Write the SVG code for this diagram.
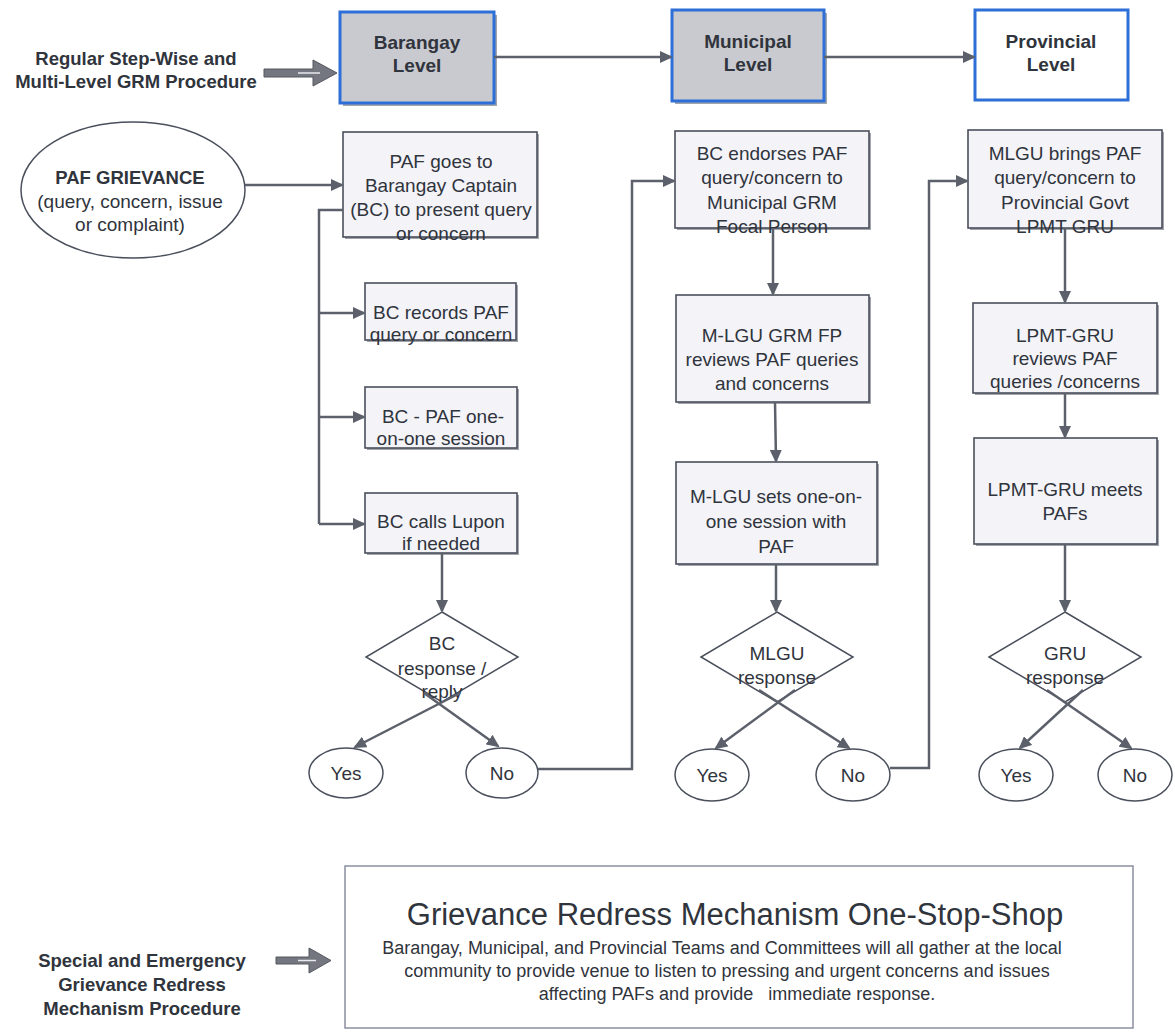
<svg xmlns="http://www.w3.org/2000/svg" width="1175" height="1032" viewBox="0 0 1175 1032">
<style>
.t{font-family:"Liberation Sans",Arial,sans-serif;font-size:19px;fill:#30343c;text-anchor:middle}
.b{font-weight:bold}
.sm{font-size:18.5px}
.box{fill:#f3f3f8;stroke:#4a4f5c;stroke-width:1.6}
.sh{fill:#a3a5ad}
.lvl{fill:#c9c9d0;stroke:#2d6fd6;stroke-width:3}
.lvlw{fill:#ffffff;stroke:#2d6fd6;stroke-width:3}
.el{fill:#ffffff;stroke:#4a4f5c;stroke-width:1.5}
.conn{stroke:#5c606b;stroke-width:2.5;fill:none}
.blk{fill:#74777f;stroke:#55585f;stroke-width:1}
</style>
<defs>
<marker id="ah" markerWidth="13" markerHeight="12" refX="11" refY="6" orient="auto" markerUnits="userSpaceOnUse">
<path d="M0,0 L13,6 L0,12 z" fill="#5c606b"/>
</marker>
</defs>
<rect width="1175" height="1032" fill="#ffffff"/>

<g id="label-regular">
<text class="t b sm" x="136" y="65">Regular Step-Wise and</text>
<text class="t b sm" x="136" y="88">Multi-Level GRM Procedure</text>
<polygon class="blk" points="264,69 313,69 313,60 337,73 313,86 313,77 264,77"/>
<line x1="298" y1="73" x2="320" y2="73" stroke="#e8e8ee" stroke-width="1.5"/>
</g>

<g id="barangay-level">
<rect class="sh" x="343" y="15" width="154" height="91"/>
<rect class="lvl" x="340" y="12" width="154" height="91"/>
<text class="t b" x="417" y="49">Barangay</text>
<text class="t b" x="417" y="72">Level</text>
</g>
<g id="municipal-level">
<rect class="sh" x="675" y="13" width="152" height="91"/>
<rect class="lvl" x="672" y="10" width="152" height="91"/>
<text class="t b" x="748" y="48">Municipal</text>
<text class="t b" x="748" y="71">Level</text>
</g>
<g id="provincial-level">
<rect class="lvlw" x="975" y="10" width="153" height="90"/>
<text class="t b" x="1051" y="48">Provincial</text>
<text class="t b" x="1051" y="71">Level</text>
</g>

<g id="paf-grievance">
<ellipse class="el" cx="133" cy="190" rx="112" ry="68"/>
<text class="t b sm" x="130" y="184">PAF GRIEVANCE</text>
<text class="t" x="130" y="208">(query, concern, issue</text>
<text class="t" x="130" y="231">or complaint)</text>
</g>

<g id="paf-goes">
<rect class="sh" x="345" y="134" width="194" height="105"/>
<rect class="box" x="343" y="132" width="194" height="105"/>
<text class="t" x="441" y="168">PAF goes to</text>
<text class="t" x="441" y="192">Barangay Captain</text>
<text class="t" x="441" y="216">(BC) to present query</text>
<text class="t" x="441" y="240">or concern</text>
</g>
<g id="bc-records">
<rect class="sh" x="367" y="285" width="151" height="57"/>
<rect class="box" x="365" y="283" width="151" height="57"/>
<text class="t" x="441" y="319">BC records PAF</text>
<text class="t" x="441" y="341">query or concern</text>
</g>
<g id="bc-session">
<rect class="sh" x="367" y="389" width="152" height="61"/>
<rect class="box" x="365" y="387" width="152" height="61"/>
<text class="t" x="443" y="423">BC - PAF one-</text>
<text class="t" x="441" y="445">on-one session</text>
</g>
<g id="bc-lupon">
<rect class="sh" x="367" y="495" width="152" height="60"/>
<rect class="box" x="365" y="493" width="152" height="60"/>
<text class="t" x="441" y="528">BC calls Lupon</text>
<text class="t" x="441" y="550">if needed</text>
</g>
<g id="bc-response">
<polygon class="el" points="442,612 518,657 442,702 366,657"/>
<text class="t" x="442" y="650">BC</text>
<text class="t" x="442" y="675">response /</text>
<text class="t" x="442" y="698">reply</text>
</g>
<g id="bc-yes"><ellipse class="el" cx="346" cy="773" rx="37" ry="25"/><text class="t" x="346" y="780">Yes</text></g>
<g id="bc-no"><ellipse class="el" cx="502" cy="773" rx="36" ry="25"/><text class="t" x="502" y="780">No</text></g>

<g id="bc-endorses">
<rect class="sh" x="677" y="133" width="194" height="97"/>
<rect class="box" x="675" y="131" width="194" height="97"/>
<text class="t" x="772" y="160">BC endorses PAF</text>
<text class="t" x="772" y="184">query/concern to</text>
<text class="t" x="772" y="209">Municipal GRM</text>
<text class="t" x="772" y="233">Focal Person</text>
</g>
<g id="mlgu-reviews">
<rect class="sh" x="678" y="297" width="193" height="107"/>
<rect class="box" x="676" y="295" width="193" height="107"/>
<text class="t" x="772" y="342">M-LGU GRM FP</text>
<text class="t" x="772" y="366">reviews PAF queries</text>
<text class="t" x="772" y="390">and concerns</text>
</g>
<g id="mlgu-session">
<rect class="sh" x="678" y="464" width="201" height="102"/>
<rect class="box" x="676" y="462" width="201" height="102"/>
<text class="t" x="776" y="503">M-LGU sets one-on-</text>
<text class="t" x="776" y="528">one session with</text>
<text class="t" x="776" y="553">PAF</text>
</g>
<g id="mlgu-response">
<polygon class="el" points="777,612 853,657 777,702 701,657"/>
<text class="t" x="777" y="660">MLGU</text>
<text class="t" x="777" y="684">response</text>
</g>
<g id="mlgu-yes"><ellipse class="el" cx="712" cy="775" rx="37" ry="26"/><text class="t" x="712" y="782">Yes</text></g>
<g id="mlgu-no"><ellipse class="el" cx="853" cy="775" rx="37" ry="26"/><text class="t" x="853" y="782">No</text></g>

<g id="mlgu-brings">
<rect class="sh" x="970" y="132" width="194" height="98"/>
<rect class="box" x="968" y="130" width="194" height="98"/>
<text class="t" x="1065" y="160">MLGU brings PAF</text>
<text class="t" x="1065" y="184">query/concern to</text>
<text class="t" x="1065" y="209">Provincial Govt</text>
<text class="t" x="1065" y="233">LPMT GRU</text>
</g>
<g id="lpmt-reviews">
<rect class="sh" x="975" y="305" width="184" height="90"/>
<rect class="box" x="973" y="303" width="184" height="90"/>
<text class="t" x="1065" y="342">LPMT-GRU</text>
<text class="t" x="1065" y="365">reviews PAF</text>
<text class="t" x="1065" y="388">queries /concerns</text>
</g>
<g id="lpmt-meets">
<rect class="sh" x="976" y="440" width="183" height="106"/>
<rect class="box" x="974" y="438" width="183" height="106"/>
<text class="t" x="1065" y="496">LPMT-GRU meets</text>
<text class="t" x="1065" y="520">PAFs</text>
</g>
<g id="gru-response">
<polygon class="el" points="1065,612 1141,657 1065,702 989,657"/>
<text class="t" x="1065" y="660">GRU</text>
<text class="t" x="1065" y="684">response</text>
</g>
<g id="gru-yes"><ellipse class="el" cx="1016" cy="775" rx="37" ry="26"/><text class="t" x="1016" y="782">Yes</text></g>
<g id="gru-no"><ellipse class="el" cx="1135" cy="775" rx="37" ry="26"/><text class="t" x="1135" y="782">No</text></g>

<g id="label-special">
<text class="t b sm" x="142" y="967">Special and Emergency</text>
<text class="t b sm" x="142" y="991">Grievance Redress</text>
<text class="t b sm" x="142" y="1015">Mechanism Procedure</text>
<polygon class="blk" points="276,957 309,957 309,948 331,960.5 309,973 309,964 276,964"/>
<line x1="298" y1="960.5" x2="316" y2="960.5" stroke="#e8e8ee" stroke-width="1.5"/>
</g>

<g id="one-stop-shop">
<rect x="345" y="866" width="788" height="162" fill="#ffffff" stroke="#8a8ea0" stroke-width="1.5"/>
<text class="t" x="735" y="925" style="font-size:31px">Grievance Redress Mechanism One-Stop-Shop</text>
<text class="t" x="722" y="954" style="font-size:18px">Barangay, Municipal, and Provincial Teams and Committees will all gather at the local</text>
<text class="t" x="727" y="977" style="font-size:18px">community to provide venue to listen to pressing and urgent concerns and issues</text>
<text class="t" x="737" y="1000" style="font-size:18px;white-space:pre" xml:space="preserve">affecting PAFs and provide   immediate response.</text>
</g>

<g id="connectors">
<line class="conn" x1="494" y1="57" x2="671" y2="57" marker-end="url(#ah)"/>
<line class="conn" x1="824" y1="57" x2="974" y2="57" marker-end="url(#ah)"/>
<line class="conn" x1="245" y1="185" x2="342" y2="185" marker-end="url(#ah)"/>
<polyline class="conn" points="343,210 319,210 319,524"/>
<line class="conn" x1="319" y1="313" x2="364" y2="313" marker-end="url(#ah)"/>
<line class="conn" x1="319" y1="417" x2="364" y2="417" marker-end="url(#ah)"/>
<line class="conn" x1="319" y1="524" x2="364" y2="524" marker-end="url(#ah)"/>
<line class="conn" x1="442" y1="553" x2="442" y2="611" marker-end="url(#ah)"/>
<line class="conn" x1="460" y1="693" x2="355" y2="747" marker-end="url(#ah)"/>
<line class="conn" x1="424" y1="693" x2="498" y2="746" marker-end="url(#ah)"/>
<polyline class="conn" points="538,769 632,769 632,181 674,181" marker-end="url(#ah)"/>
<line class="conn" x1="773" y1="228" x2="773" y2="294" marker-end="url(#ah)"/>
<line class="conn" x1="775" y1="402" x2="776" y2="461" marker-end="url(#ah)"/>
<line class="conn" x1="776" y1="564" x2="776" y2="611" marker-end="url(#ah)"/>
<line class="conn" x1="795" y1="690" x2="716" y2="748" marker-end="url(#ah)"/>
<line class="conn" x1="759" y1="690" x2="849" y2="748" marker-end="url(#ah)"/>
<polyline class="conn" points="890,768 929,768 929,181 967,181" marker-end="url(#ah)"/>
<line class="conn" x1="1065" y1="228" x2="1065" y2="302" marker-end="url(#ah)"/>
<line class="conn" x1="1065" y1="393" x2="1065" y2="437" marker-end="url(#ah)"/>
<line class="conn" x1="1065" y1="544" x2="1065" y2="611" marker-end="url(#ah)"/>
<line class="conn" x1="1083" y1="690" x2="1020" y2="748" marker-end="url(#ah)"/>
<line class="conn" x1="1047" y1="690" x2="1131" y2="748" marker-end="url(#ah)"/>
</g>
</svg>
